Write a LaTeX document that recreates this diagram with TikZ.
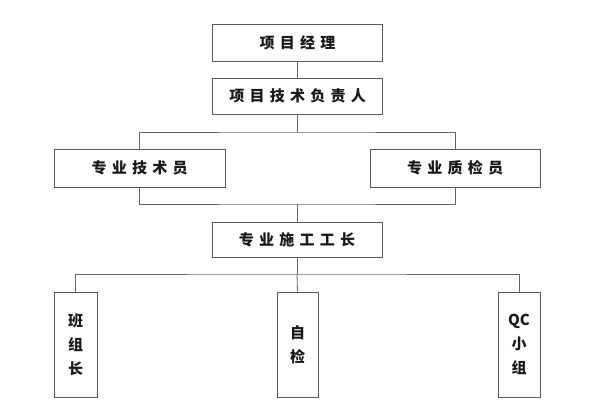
\documentclass[tikz,border=0pt]{standalone}
\usepackage{fontspec}
\newfontfamily\cjk[LetterSpace=35]{Noto Sans CJK SC}
\newfontfamily\cjkv{Noto Sans CJK SC}
\begin{document}
\begin{tikzpicture}[x=1pt,y=-1pt,
  box/.style={draw=black!65,line width=0.8pt,fill=white,inner sep=0pt,font=\cjk\bfseries\fontsize{15}{17}\selectfont,text=black!90},
  vbox/.style={draw=black!65,line width=0.8pt,fill=white,inner sep=0pt,align=center,font=\cjkv\bfseries\fontsize{15}{24}\selectfont,text=black!90,minimum height=105pt},
  link/.style={draw=black!60,line width=0.8pt}]
\useasboundingbox (0,0) rectangle (596,410);
\fill[white] (0,0) rectangle (596,410);
\node[box,minimum width=170pt,minimum height=37pt] (pm) at (297.5,42.5) {项目经理};
\node[box,minimum width=170pt,minimum height=36pt] (tl) at (297.5,96) {项目技术负责人};
\node[box,minimum width=171pt,minimum height=38pt] (te) at (139.5,168) {专业技术员};
\node[box,minimum width=170pt,minimum height=38pt] (qi) at (455,168) {专业质检员};
\node[box,minimum width=170pt,minimum height=35pt] (fm) at (297,239.5) {专业施工工长};
\node[vbox,minimum width=43pt] (bz) at (75.5,344.5) {班\\组\\长};
\node[vbox,minimum width=41pt] (zj) at (297.5,344.5) {自\\检};
\node[vbox,minimum width=42pt] (qc) at (519,344.5) {QC\\小\\组};
\coordinate (j1) at (297.5,132);
\coordinate (j2) at (297,204);
\coordinate (j3) at (297,274);
\draw[link] (pm.south) -- (tl.north);
\draw[link] (tl.south) -- (j1);
\draw[link] (te.north) |- (j1) -| (qi.north);
\draw[link] (te.south) |- (j2) -| (qi.south);
\draw[link] (j2) -- (fm.north);
\draw[link] (fm.south) -- (j3);
\draw[link] (bz.north) |- (j3) -| (qc.north);
\draw[link] (j3) -- (zj.north);
\end{tikzpicture}
\end{document}
